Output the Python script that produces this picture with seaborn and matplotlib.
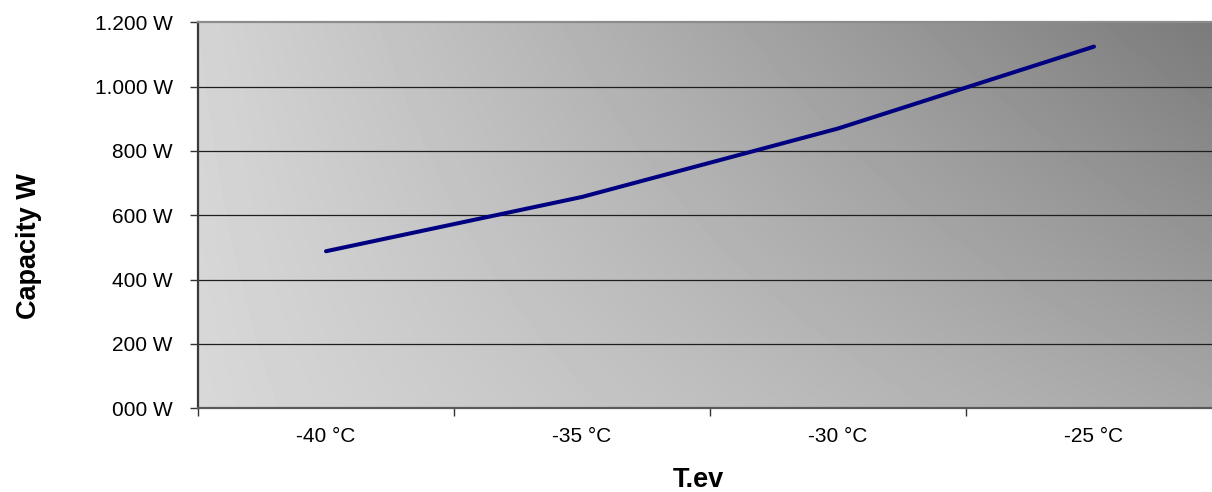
import numpy as np
import pandas as pd
import matplotlib
matplotlib.use('Agg')
import matplotlib.pyplot as plt
import seaborn as sns
from matplotlib.ticker import FixedLocator, FuncFormatter

# data
temps = ['-40 °C', '-35 °C', '-30 °C', '-25 °C']
capacity = [488, 657, 870, 1125]
y_ticks = [0, 200, 400, 600, 800, 1000, 1200]

sns.set_theme(style='white')
plt.rcParams['font.family'] = ['Liberation Sans', 'DejaVu Sans']

df = pd.DataFrame({'pos': np.arange(len(temps)), 'capacity': capacity})

fig = plt.figure(figsize=(12.12, 4.92), dpi=100)
fig.patch.set_facecolor('white')
# plot area runs a bit past the right edge of the picture, like the original
ax = fig.add_axes([198 / 1212, 84 / 492, 1024 / 1212, 385.5 / 492])

# excel-like gray gradient background (light left -> dark top right)
u = np.linspace(0, 1, 300)
v = np.linspace(0, 1, 120)
U, V = np.meshgrid(u, v)
left = 216 - 4 * V
right = 166 - 44 * V
grad = (left * (1 - U) + right * U) / 255.0
ax.imshow(grad, cmap='gray', vmin=0, vmax=1, origin='lower', aspect='auto',
          extent=[0, 1, 0, 1], transform=ax.transAxes, zorder=0,
          interpolation='bilinear')

for yv in y_ticks[1:-1]:
    ax.axhline(yv, color='#1e1e1e', lw=0.9, zorder=1)

sns.lineplot(data=df, x='pos', y='capacity', color='#000080', lw=2.9,
             solid_capstyle='round', ax=ax, zorder=3)

ax.set_xlim(-0.5, len(temps) - 0.5)
ax.set_ylim(0, 1200)

# y axis
ax.set_yticks(y_ticks)
ax.yaxis.set_major_formatter(FuncFormatter(
    lambda v, p: f'{int(v) // 1000}.{int(v) % 1000:03d} W' if v >= 1000 else f'{int(v):03d} W'))
ax.tick_params(axis='y', which='major', direction='out', length=6, width=1,
               color='#333333', labelsize=15, pad=12, left=True)

# x axis: ticks on category borders, labels in the middle
ax.xaxis.set_major_locator(FixedLocator(np.arange(-0.5, len(temps), 1.0)))
ax.xaxis.set_major_formatter(FuncFormatter(lambda v, p: ''))
ax.xaxis.set_minor_locator(FixedLocator(df['pos'].values))
ax.set_xticklabels(temps, minor=True)
ax.tick_params(axis='x', which='major', direction='out', length=6, width=1,
               color='#333333', bottom=True)
ax.tick_params(axis='x', which='minor', length=0, labelsize=15, pad=14)

for lab in ax.get_yticklabels() + ax.get_xticklabels(minor=True):
    lab.set_color('black')

ax.spines['left'].set_color('#3a3a3a')
ax.spines['left'].set_linewidth(1.6)
ax.spines['bottom'].set_color('#5a5a5a')
ax.spines['bottom'].set_linewidth(1.6)
ax.spines['top'].set_color('#8c8c8c')
ax.spines['top'].set_linewidth(1.6)
ax.spines['right'].set_visible(False)

ax.set_xlabel('')
ax.set_ylabel('')
fig.text(29 / 1212, 1 - 246 / 492, 'Capacity W', rotation=90, ha='center', va='center',
         fontsize=19.5, fontweight='bold', color='black')
fig.text(698 / 1212, 5 / 492, 'T.ev', ha='center', va='baseline',
         fontsize=19.5, fontweight='bold', color='black')

fig.savefig('out.png', dpi=100, facecolor='white')
